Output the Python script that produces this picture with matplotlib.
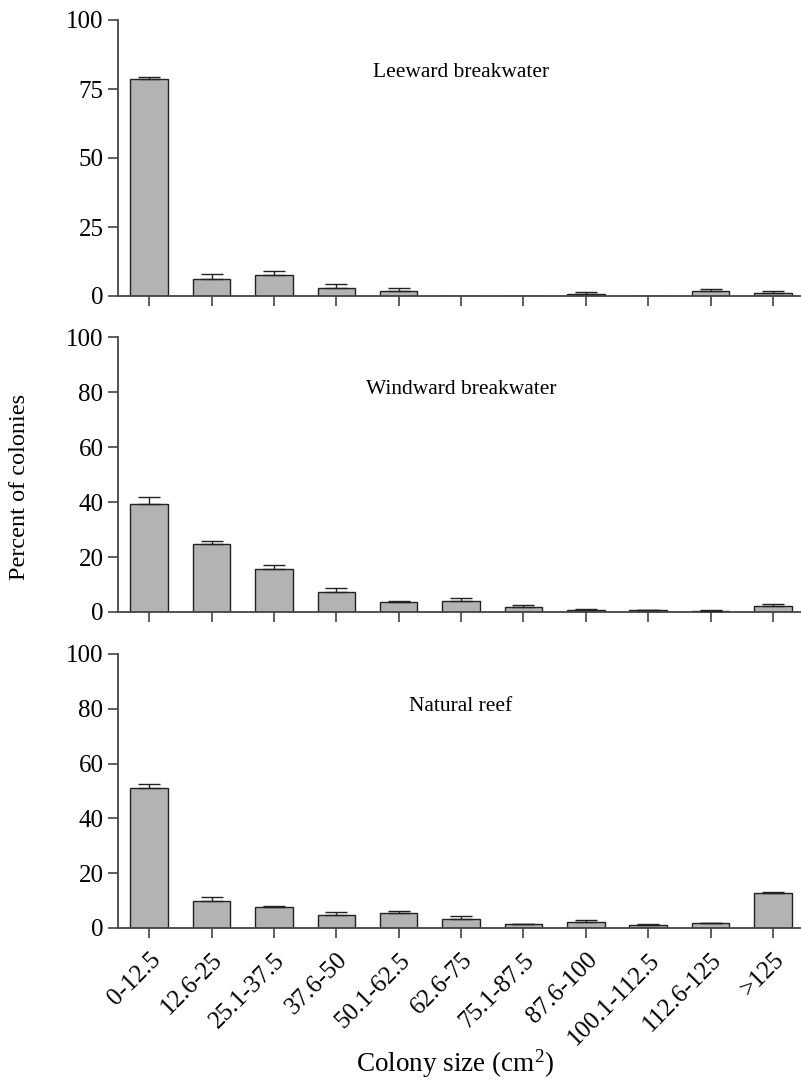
import matplotlib
matplotlib.use("Agg")
import matplotlib.pyplot as plt
import numpy as np

plt.rcParams['font.family'] = ['Liberation Serif', 'DejaVu Serif']
plt.rcParams['mathtext.fontset'] = 'custom'
plt.rcParams['mathtext.rm'] = 'Liberation Serif'
plt.rcParams['mathtext.it'] = 'Liberation Serif:italic'

size_classes = ['0-12.5', '12.6-25', '25.1-37.5', '37.6-50', '50.1-62.5', '62.6-75',
                '75.1-87.5', '87.6-100', '100.1-112.5', '112.6-125', '>125']

leeward = [78.5, 6.2, 7.6, 2.9, 1.8, 0, 0, 0.7, 0, 1.7, 1.0]
leeward_se = [0.8, 1.9, 1.3, 1.3, 1.0, 0, 0, 0.6, 0, 1.0, 0.9]

windward = [39.3, 24.7, 15.8, 7.3, 3.5, 4.1, 1.9, 0.85, 0.7, 0.5, 2.3]
windward_se = [2.5, 1.1, 1.3, 1.4, 0.5, 1.0, 0.5, 0.35, 0.05, 0.35, 0.6]

natural = [51.1, 10.0, 7.8, 4.7, 5.5, 3.4, 1.3, 2.3, 1.2, 1.9, 12.8]
natural_se = [1.5, 1.3, 0.2, 1.3, 0.7, 1.0, 0.3, 0.5, 0.3, 0.05, 0.3]

panels = [
    ('Leeward breakwater', leeward, leeward_se, [0, 25, 50, 75, 100]),
    ('Windward breakwater', windward, windward_se, [0, 20, 40, 60, 80, 100]),
    ('Natural reef', natural, natural_se, [0, 20, 40, 60, 80, 100]),
]

fig = plt.figure(figsize=(8.01, 10.82), dpi=100)
W, H = 801, 1082
boxes = [(20, 296), (337, 612), (654, 928)]  # pixel top/bottom of each panel
left_px, right_px = 118, 801

x = np.arange(len(size_classes))
axes = []
for (title, vals, se, yt), (top, bot) in zip(panels, boxes):
    ax = fig.add_axes([left_px / W, 1 - bot / H, (right_px - left_px) / W, (bot - top) / H])
    ax.bar(x, vals, width=0.6, color='#b3b3b3', edgecolor='#222222', linewidth=1.0, zorder=2)
    vals = np.array(vals)
    se = np.array(se)
    has_err = se > 0
    ax.errorbar(x[has_err], vals[has_err], yerr=[np.zeros(has_err.sum()), se[has_err]],
                fmt='none', ecolor='#222222', elinewidth=1.0, capsize=8, capthick=1.0,
                zorder=3)
    ax.set_xlim(-0.5, 10.45)
    ax.set_ylim(0, 100)
    ax.set_yticks(yt)
    ax.set_xticks(x)
    ax.spines['top'].set_visible(False)
    ax.spines['right'].set_visible(False)
    for s in ['left', 'bottom']:
        ax.spines[s].set_color('#444444')
        ax.spines[s].set_linewidth(1.3)
    ax.tick_params(axis='both', direction='out', length=7, width=1.2, color='#444444',
                   labelsize=18)
    ax.text(5, 81, title, ha='center', va='center', fontsize=15.5)
    axes.append(ax)

for ax in axes[:2]:
    ax.set_xticklabels([])
axes[2].set_xticklabels(size_classes, rotation=45, ha='right', rotation_mode='anchor',
                        fontsize=18)
axes[2].tick_params(axis='x', pad=8)
fig.text(455 / W, 1 - 1064 / H, 'Colony size (cm$^{\\mathrm{2}}$)', ha='center',
         va='center', fontsize=19.5)
fig.text(0.024, 0.55, 'Percent of colonies', rotation=90, ha='center', va='center',
         fontsize=17.5)

fig.savefig('out.png', dpi=100)
